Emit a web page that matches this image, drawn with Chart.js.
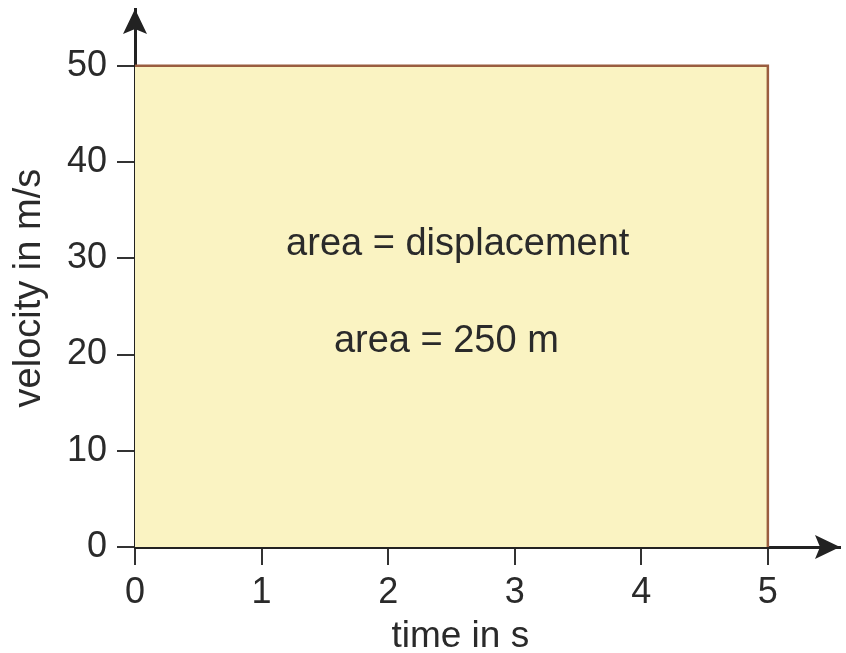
<!DOCTYPE html>
<html>
<head>
<meta charset="utf-8">
<script src="https://cdn.jsdelivr.net/npm/chart.js@4"></script>
<style>
  html, body { margin: 0; padding: 0; background: #fff; }
  #wrap { width: 846px; height: 653px; }
</style>
</head>
<body>
<div id="wrap"><canvas id="vtChart" width="846" height="653"></canvas></div>
<script>
// velocity-time graph: constant 50 m/s for 5 s
const timeValues = [0, 5, 5];
const velocityValues = [50, 50, 0];
const xTicks = [0, 1, 2, 3, 4, 5];
const yTicks = [0, 10, 20, 30, 40, 50];
const xTitle = "time in s";
const yTitle = "velocity in m/s";
const notes = [
  { text: "area = displacement", x: 2.55, y: 31.4 },
  { text: "area = 250 m", x: 2.46, y: 21.3 }
];

const FONT = "'Liberation Sans', Arial, sans-serif";
const INK = "#2a2a2a";

// arrows on the axes, axis titles and the two notes
const extras = {
  id: "extras",
  afterDraw(chart) {
    const ctx = chart.ctx;
    const xs = chart.scales.x, ys = chart.scales.y;
    const ox = xs.getPixelForValue(0), oy = ys.getPixelForValue(0);
    const area = chart.chartArea;
    ctx.save();
    ctx.fillStyle = "#222";
    // up arrow
    ctx.beginPath();
    ctx.moveTo(ox, area.top);
    ctx.lineTo(ox - 12, area.top + 25);
    ctx.lineTo(ox, area.top + 20);
    ctx.lineTo(ox + 12, area.top + 25);
    ctx.closePath();
    ctx.fill();
    // right arrow
    ctx.beginPath();
    ctx.moveTo(area.right, oy);
    ctx.lineTo(area.right - 25, oy - 12);
    ctx.lineTo(area.right - 20, oy);
    ctx.lineTo(area.right - 25, oy + 12);
    ctx.closePath();
    ctx.fill();

    ctx.fillStyle = INK;
    ctx.font = "38px " + FONT;
    ctx.textAlign = "center";
    ctx.textBaseline = "middle";
    notes.forEach(n => {
      ctx.fillText(n.text, xs.getPixelForValue(n.x), ys.getPixelForValue(n.y));
    });
    // axis titles
    ctx.font = "37px " + FONT;
    ctx.fillText(xTitle, xs.getPixelForValue(2.57), oy + 90);
    ctx.save();
    ctx.translate(30, ys.getPixelForValue(26.9));
    ctx.rotate(-Math.PI / 2);
    ctx.font = "38px " + FONT;
    ctx.fillText(yTitle, 0, 0);
    ctx.restore();
    ctx.restore();
  }
};

new Chart(document.getElementById("vtChart"), {
  type: "line",
  data: {
    labels: timeValues,
    datasets: [{
      data: timeValues.map((t, i) => ({ x: t, y: velocityValues[i] })),
      borderColor: "#9a5d3f",
      borderWidth: 2.5,
      backgroundColor: "#faf3c2",
      fill: "origin",
      pointRadius: 0,
      tension: 0
    }]
  },
  options: {
    responsive: false,
    animation: false,
    layout: { padding: { top: 9, right: 6, left: 0, bottom: 0 } },
    plugins: { legend: { display: false }, tooltip: { enabled: false } },
    scales: {
      x: {
        type: "linear",
        min: 0,
        max: 5.57,
        z: 1,
        afterBuildTicks: s => { s.ticks = xTicks.map(v => ({ value: v })); },
        afterFit: s => { s.height = 106; s.paddingRight = 0; s.paddingLeft = 0; },
        grid: { drawOnChartArea: false, tickLength: 18, color: "#333", lineWidth: 2 },
        border: { display: true, color: "#222", width: 3 },
        ticks: { padding: 6, color: INK, font: { family: FONT, size: 36 } }
      },
      y: {
        type: "linear",
        min: 0,
        max: 55.9,
        z: 1,
        afterBuildTicks: s => { s.ticks = yTicks.map(v => ({ value: v })); },
        afterFit: s => { s.width = 135; s.paddingTop = 0; s.paddingBottom = 0; },
        grid: { drawOnChartArea: false, tickLength: 18, color: "#333", lineWidth: 2 },
        border: { display: true, color: "#222", width: 3 },
        ticks: { padding: 10, color: INK, font: { family: FONT, size: 36 } }
      }
    }
  },
  plugins: [extras]
});
</script>
</body>
</html>
